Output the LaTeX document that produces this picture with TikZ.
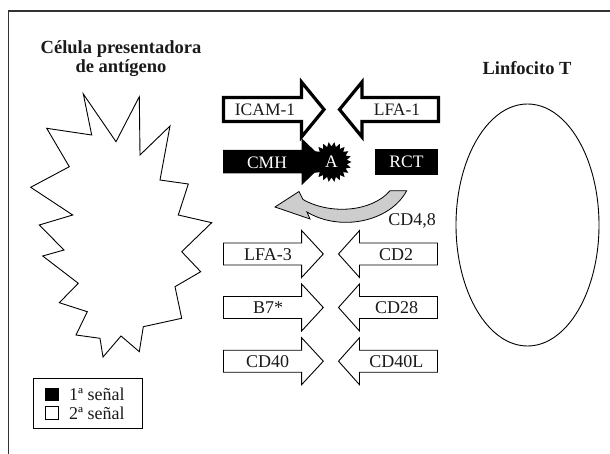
\documentclass[tikz,border=0pt]{standalone}
\usepackage{fontspec}
\newfontfamily\tnr{Liberation Serif}
\usetikzlibrary{shapes.geometric}
\definecolor{arrgrey}{HTML}{CDCDCD}
\definecolor{inkc}{HTML}{1A1A1A}
\newcommand{\ArrowPath}[6]{(#1,{#4-#5}) -- (#2,{#4-#5}) -- (#2,{#4-#6}) -- (#3,#4) -- (#2,{#4+#6}) -- (#2,{#4+#5}) -- (#1,{#4+#5}) -- cycle}
\tikzset{
  titletext/.style={font=\tnr\bfseries\fontsize{18.5}{20}\selectfont, text=inkc, anchor=base, inner sep=0},
  uptext/.style={font=\tnr\fontsize{17.5}{19}\selectfont, text=inkc, inner sep=0},
  whitetext/.style={font=\tnr\fontsize{17.5}{19}\selectfont, text=white, inner sep=0},
  lowtext/.style={font=\tnr\fontsize{18}{19}\selectfont, text=inkc, inner sep=0},
  legtext/.style={font=\tnr\fontsize{18}{20}\selectfont, text=inkc, anchor=west, inner sep=0},
  thickarr/.style={draw=black, fill=white, line width=3.2pt, line join=miter},
  thinarr/.style={draw=black, fill=white, line width=0.9pt, line join=miter},
  blackarr/.style={fill=black},
}
\begin{document}
\begin{tikzpicture}[x=1pt,y=-1pt]
\useasboundingbox (0,0) rectangle (610,454);
% frame
\draw[line width=1.3pt, black!80] (8.3,454) -- (8.3,11) -- (610,11);
% titles
\node[titletext] (apc1) at (121,54) {Célula presentadora};
\node[titletext] (apc2) at (121,73) {de antígeno};
\node[titletext] (lt) at (527,75) {Linfocito T};
% antigen presenting cell
\draw[line width=0.9pt, line join=miter, fill=white] (83.3,94) -- (91.7,135) -- (46.7,128.3) -- (69.3,166.7) -- (30.7,187.3) -- (72.7,215) -- (39.3,225) -- (64,250) -- (42.7,256) -- (78.3,283.3) -- (59.3,302.7) -- (87.3,311.7) -- (76,335) -- (100,338.3) -- (103,357) -- (121,336) -- (139.3,351.7) -- (143.3,326.7) -- (181.7,318.3) -- (175,286.7) -- (200.7,271.7) -- (181.7,251.7) -- (211.7,222.7) -- (178.3,215) -- (188.3,184) -- (160,180) -- (170,126) -- (140,155) -- (139.3,96.7) -- (116,141.7) -- cycle;
% T lymphocyte
\node[draw, line width=0.9pt, ellipse, minimum width=143pt, minimum height=242pt, inner sep=0] (tcell) at (527.5,225) {};
% ICAM-1 / LFA-1
\draw[thickarr] \ArrowPath{223.5}{301.5}{324}{109.5}{12}{27.5};
\draw[thickarr] \ArrowPath{438.5}{362}{339.5}{109.5}{12}{27.5};
\node[uptext] (icam) at (265,110) {ICAM-1};
\node[uptext] (lfa1) at (397,110) {LFA-1};
% CMH + A, RCT
\fill[blackarr] \ArrowPath{223}{301.6}{326}{161.7}{11.7}{23.5};
\node[whitetext] (cmh) at (267,162.5) {CMH};
\coordinate (astar) at (331.5,162);
\fill[black, shift={(astar)}] plot[samples=45, domain=0:44, variable=\k] ({\k*360/44}:{mod(\k,2)==0 ? 20 : 15.5}) -- cycle;
\node[whitetext] (a) at (astar) {A};
\node[fill=black, minimum width=63.5pt, minimum height=25.5pt, inner sep=0] (rctbox) at (406.5,162.2) {};
\node[whitetext] (rct) at (rctbox.center) {RCT};
% curved grey arrow
\draw[fill=arrgrey, line width=0.8pt, line join=miter] (406.7,190.7) .. controls (390,222) and (340,232) .. (307,212) -- (310,219) -- (275,207) -- (299,191.5) -- (303,199.5) .. controls (330,215) and (372,212) .. (390,190.7) -- cycle;
\node[lowtext] (cd48) at (412,220.5) {CD4,8};
% second signal rows
\draw[thinarr] \ArrowPath{223.5}{301.6}{323.3}{254}{11}{23.5};
\draw[thinarr] \ArrowPath{437.5}{359.5}{338.5}{254}{11}{23.5};
\node[lowtext] (lfa3) at (268,254.5) {LFA-3};
\node[lowtext] (cd2) at (396,254.5) {CD2};
\draw[thinarr] \ArrowPath{223.5}{301.6}{323.3}{307.5}{11}{23.5};
\draw[thinarr] \ArrowPath{437.5}{359.5}{338.5}{307.5}{11}{23.5};
\node[lowtext] (b7) at (268,308) {B7*};
\node[lowtext] (cd28) at (396.5,308) {CD28};
\draw[thinarr] \ArrowPath{223.5}{301.6}{323.3}{361.2}{11}{23.5};
\draw[thinarr] \ArrowPath{437.5}{359.5}{338.5}{361.2}{11}{23.5};
\node[lowtext] (cd40) at (267.5,361.7) {CD40};
\node[lowtext] (cd40l) at (396.3,361.7) {CD40L};
% legend
\node[draw, line width=0.9pt, minimum width=109.4pt, minimum height=50pt, inner sep=0] (legend) at (88,403.3) {};
\node[fill=black, draw=black, line width=0.6pt, minimum size=12.5pt, inner sep=0] (sq1) at (51.7,394.5) {};
\node[fill=white, draw=black, line width=0.6pt, minimum size=12.5pt, inner sep=0] (sq2) at (51.7,413) {};
\node[legtext] (l1) at (69,394) {1ª señal};
\node[legtext] (l2) at (69,413) {2ª señal};
\end{tikzpicture}
\end{document}
